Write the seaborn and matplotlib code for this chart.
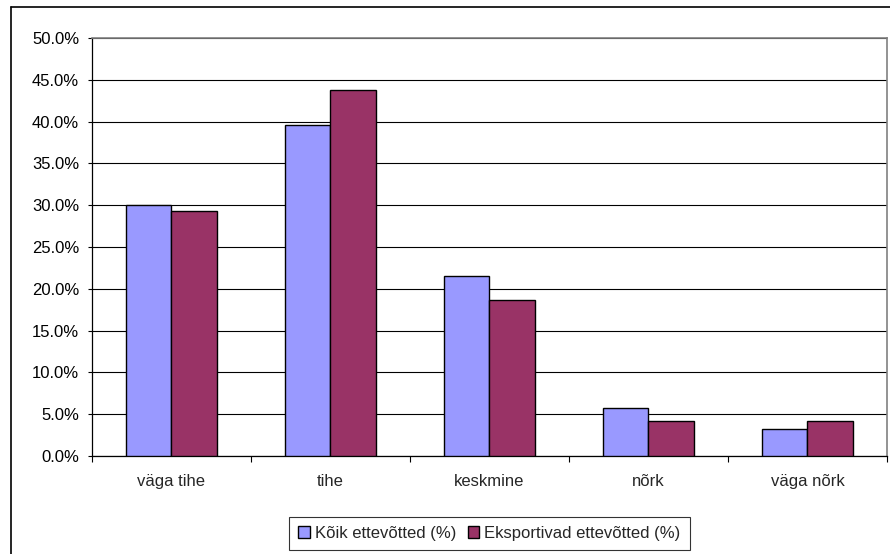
import numpy as np
import pandas as pd
import matplotlib
matplotlib.use("Agg")
import matplotlib.pyplot as plt
import seaborn as sns
from matplotlib.ticker import PercentFormatter, FixedLocator
from matplotlib.lines import Line2D

# data (%)
categories = ["väga tihe", "tihe", "keskmine", "nõrk", "väga nõrk"]
series_names = ["Kõik ettevõtted (%)", "Eksportivad ettevõtted (%)"]
koik = [30.0, 39.6, 21.5, 5.7, 3.2]
eksport = [29.3, 43.8, 18.7, 4.2, 4.2]

df = pd.DataFrame({
    "kategooria": categories * 2,
    "seeria": [series_names[0]] * 5 + [series_names[1]] * 5,
    "vaartus": koik + eksport,
})

sns.set_style("white")
plt.rcParams["font.family"] = ["Liberation Sans", "DejaVu Sans"]

fig = plt.figure(figsize=(8.9, 5.54), dpi=100)
ax = fig.add_axes([91.7 / 890, 98 / 554, (887 - 91.7) / 890, (456 - 38) / 554])

sns.barplot(data=df, x="kategooria", y="vaartus", hue="seeria",
            palette=["#9999FF", "#993366"], width=0.575, gap=0,
            edgecolor="black", linewidth=1, saturation=1, ax=ax, zorder=3)

# axes look
ax.set_ylim(0, 50)
ax.set_xlim(-0.5, 4.5)
ax.set_yticks(np.arange(0, 51, 5))
ax.yaxis.set_major_formatter(PercentFormatter(decimals=1))
ax.yaxis.grid(True, color="black", linewidth=0.8, zorder=0)
ax.set_xlabel("")
ax.set_ylabel("")
ax.tick_params(axis="y", left=True, length=3, width=0.8, pad=6, labelsize=12, colors="black")
ax.tick_params(axis="x", which="major", length=0, pad=13, labelsize=12)
ax.xaxis.set_minor_locator(FixedLocator(np.arange(-0.5, 5, 1)))
ax.tick_params(axis="x", which="minor", bottom=True, length=4, width=0.8, color="black")
for side in ["left", "bottom"]:
    ax.spines[side].set_color("black")
    ax.spines[side].set_linewidth(0.9)
for side in ["top", "right"]:
    ax.spines[side].set_color("#808080")
    ax.spines[side].set_linewidth(1.2)

# legend at the bottom
ax.legend_.remove()
handles, labels = ax.get_legend_handles_labels()
leg = fig.legend(handles, labels, loc="lower center", bbox_to_anchor=(489.3 / 890, 4 / 554),
                 borderaxespad=0, ncol=2, frameon=True, fancybox=False, edgecolor="black",
                 fontsize=12, handlelength=0.7, handleheight=0.7, handletextpad=0.3,
                 columnspacing=0.7, borderpad=0.55)
leg.get_frame().set_linewidth(0.8)

# outer chart border
fig.add_artist(Line2D([11 / 890, 11 / 890], [0, 1 - 7 / 554], transform=fig.transFigure,
                      color="black", linewidth=1.2))
fig.add_artist(Line2D([11 / 890, 1], [1 - 7 / 554, 1 - 7 / 554], transform=fig.transFigure,
                      color="black", linewidth=1.2))

fig.savefig("out.png", dpi=100)
